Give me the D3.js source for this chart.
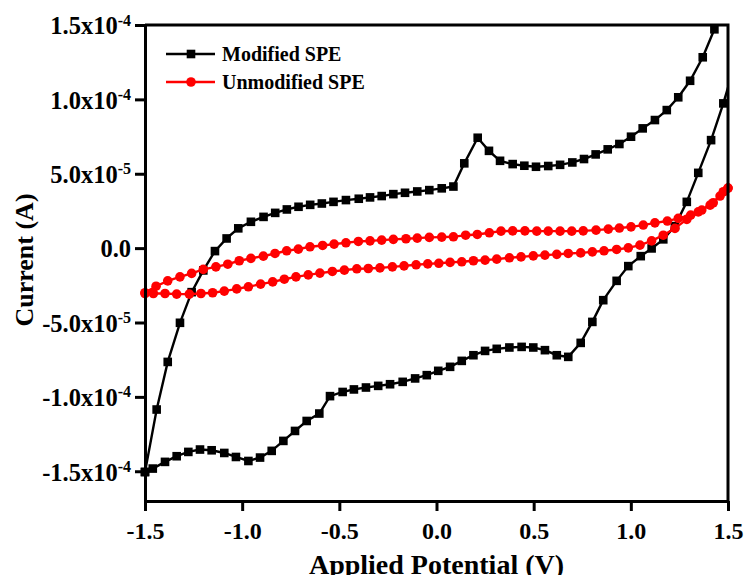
<!DOCTYPE html>
<html>
<head>
<meta charset="utf-8">
<script src="https://cdn.jsdelivr.net/npm/d3@7"></script>
<style>
  body { margin: 0; background: #fff; }
  text { font-family: "Liberation Serif", "Times New Roman", serif; font-weight: bold; fill: #000; }
</style>
</head>
<body>
<svg id="main" width="747" height="575"></svg>
<script>
// currents are in units of 1e-5 A
var xTicks = [-1.5, -1.0, -0.5, 0.0, 0.5, 1.0, 1.5];
var yTicks = [-15, -10, -5, 0, 5, 10, 15];
var yTickMant = ["-1.5", "-1.0", "-5.0", "0.0", "5.0", "1.0", "1.5"];
var yTickExp = ["-4", "-4", "-5", "", "-5", "-4", "-4"];

var seriesNames = ["Modified SPE", "Unmodified SPE"];

// Modified SPE, anodic sweep then cathodic sweep
var modFwdV = [-1.5,-1.44,-1.383,-1.32,-1.26,-1.2,-1.14,-1.08,-1.02,-0.955,-0.89,-0.83,-0.77,-0.71,-0.65,-0.59,-0.53,-0.466,-0.40,-0.342,-0.282,-0.222,-0.162,-0.099,-0.037,0.027,0.087,0.143,0.212,0.27,0.327,0.392,0.452,0.512,0.575,0.636,0.699,0.759,0.819,0.881,0.941,1.001,1.061,1.124,1.185,1.244,1.305,1.37,1.43,1.49];
var modFwdI = [-15.05,-10.85,-7.65,-5.02,-2.96,-1.5,-0.2,0.65,1.33,1.77,2.1,2.37,2.6,2.78,2.91,3.0,3.11,3.23,3.32,3.41,3.5,3.63,3.72,3.81,3.9,4.02,4.14,5.7,7.42,6.54,5.87,5.65,5.54,5.47,5.52,5.6,5.76,5.99,6.3,6.64,7.0,7.49,8.05,8.61,9.28,10.14,11.25,12.83,14.71,16.9];
var modRevV = [1.536,1.476,1.413,1.347,1.288,1.227,1.167,1.107,1.051,0.987,0.927,0.858,0.802,0.742,0.678,0.619,0.558,0.498,0.438,0.375,0.31,0.25,0.19,0.13,0.07,0.009,-0.05,-0.11,-0.174,-0.239,-0.30,-0.363,-0.425,-0.483,-0.548,-0.603,-0.668,-0.728,-0.788,-0.848,-0.908,-0.968,-1.032,-1.092,-1.157,-1.217,-1.277,-1.337,-1.397,-1.46,-1.5];
var modRevI = [12.4,9.73,7.26,5.06,3.11,1.48,0.59,-0.02,-0.54,-1.21,-2.2,-3.5,-4.96,-6.37,-7.31,-7.2,-6.86,-6.68,-6.64,-6.68,-6.77,-6.91,-7.2,-7.58,-7.98,-8.25,-8.54,-8.76,-8.99,-9.15,-9.26,-9.37,-9.5,-9.67,-9.95,-11.12,-11.62,-12.29,-12.96,-13.63,-14.08,-14.31,-14.04,-13.77,-13.59,-13.54,-13.7,-13.99,-14.37,-14.82,-15.05];

// Unmodified SPE
var unmodUpV = [-1.5,-1.443,-1.383,-1.32,-1.26,-1.2,-1.135,-1.074,-1.015,-0.955,-0.891,-0.831,-0.771,-0.711,-0.651,-0.586,-0.527,-0.466,-0.402,-0.342,-0.282,-0.222,-0.157,-0.099,-0.037,0.027,0.087,0.15,0.21,0.272,0.332,0.392,0.455,0.516,0.575,0.636,0.696,0.755,0.821,0.884,0.941,1.001,1.064,1.124,1.188,1.244,1.308,1.365,1.424,1.476,1.5];
var unmodUpI = [-3.0,-2.56,-2.2,-1.93,-1.7,-1.43,-1.26,-1.08,-0.85,-0.69,-0.54,-0.36,-0.18,-0.07,0.09,0.18,0.27,0.36,0.45,0.49,0.54,0.59,0.63,0.67,0.72,0.74,0.76,0.87,0.92,1.03,1.14,1.16,1.16,1.14,1.14,1.14,1.14,1.16,1.21,1.28,1.35,1.43,1.55,1.7,1.82,2.0,2.22,2.56,3.05,3.79,4.04];
var unmodLoV = [-1.5,-1.457,-1.397,-1.337,-1.272,-1.212,-1.152,-1.092,-1.028,-0.968,-0.905,-0.843,-0.783,-0.723,-0.66,-0.6,-0.536,-0.474,-0.41,-0.351,-0.291,-0.227,-0.167,-0.105,-0.045,0.012,0.07,0.13,0.19,0.25,0.31,0.375,0.435,0.498,0.558,0.619,0.678,0.742,0.802,0.862,0.927,0.987,1.047,1.107,1.167,1.227,1.288,1.347,1.408,1.459,1.5];
var unmodLoI = [-3.05,-3.05,-3.05,-3.09,-3.09,-3.05,-3.0,-2.89,-2.74,-2.6,-2.42,-2.27,-2.09,-1.93,-1.8,-1.68,-1.57,-1.48,-1.39,-1.37,-1.33,-1.26,-1.19,-1.12,-1.06,-1.02,-0.96,-0.92,-0.85,-0.81,-0.74,-0.65,-0.59,-0.52,-0.47,-0.42,-0.36,-0.32,-0.25,-0.18,-0.09,0.02,0.2,0.49,0.87,1.33,1.93,2.44,2.89,3.5,4.04];

var zip = (vs, is) => vs.map((v, i) => ({v: v, i: is[i]}));

var svg = d3.select('svg#main');
var plotLeft = 145, plotRight = 728, plotTop = 25, plotBottom = 501;

var x = d3.scaleLinear().domain([-1.5, 1.5]).range([plotLeft, plotRight]);
var y = d3.scaleLinear().domain([-17, 15]).range([plotBottom, plotTop]);

svg.append('clipPath').attr('id', 'plotclip')
  .append('rect').attr('x', plotLeft).attr('y', plotTop)
  .attr('width', plotRight - plotLeft).attr('height', plotBottom - plotTop);

var line = d3.line().x(d => x(d.v)).y(d => y(d.i));
var inside = d => d.v >= -1.5 && d.v <= 1.5 && d.i >= -17 && d.i <= 15;

var series = [
  {name: seriesNames[0], color: '#000', shape: 'square', branches: [zip(modFwdV, modFwdI), zip(modRevV, modRevI)]},
  {name: seriesNames[1], color: '#ff0000', shape: 'circle', branches: [zip(unmodUpV, unmodUpI), zip(unmodLoV, unmodLoI)]}
];

function drawMarkers(g, pts, s) {
  if (s.shape === 'square') {
    g.selectAll(null).data(pts).join('rect')
      .attr('x', d => x(d.v) - 4.3).attr('y', d => y(d.i) - 4.3)
      .attr('width', 8.6).attr('height', 8.6)
      .attr('fill', s.color);
  } else {
    g.selectAll(null).data(pts).join('circle')
      .attr('cx', d => x(d.v)).attr('cy', d => y(d.i))
      .attr('r', 4.8)
      .attr('fill', s.color);
  }
}

series.forEach(s => {
  var g = svg.append('g');
  s.branches.forEach(b => {
    g.append('path').datum(b)
      .attr('d', line)
      .attr('fill', 'none')
      .attr('stroke', s.color)
      .attr('stroke-width', 2.4)
      .attr('clip-path', 'url(#plotclip)');
  });
  s.branches.forEach(b => drawMarkers(g, b.filter(inside), s));
});

// axes
var xAxis = svg.append('g').attr('transform', `translate(0,${plotBottom})`)
  .call(d3.axisBottom(x).tickValues(xTicks).tickSize(10).tickSizeOuter(0));
xAxis.selectAll('text').attr('font-size', 24).attr('dy', null).attr('y', 38)
  .attr('font-family', '"Liberation Serif", serif').attr('font-weight', 'bold')
  .text(d => d3.format('.1f')(d).replace('−', '-'));

var yAxis = svg.append('g').attr('transform', `translate(${plotLeft},0)`)
  .call(d3.axisLeft(y).tickValues(yTicks).tickSize(10).tickSizeOuter(0));
yAxis.selectAll('text').each(function(d) {
  var t = d3.select(this).text('')
    .attr('font-size', 24.5).attr('x', -14).attr('dy', '0.36em')
    .attr('font-family', '"Liberation Serif", serif').attr('font-weight', 'bold');
  var idx = yTicks.indexOf(d);
  if (yTickExp[idx] === '') {
    t.text(yTickMant[idx]);
  } else {
    t.append('tspan').text(yTickMant[idx] + 'x10');
    t.append('tspan').attr('font-size', 16).attr('dy', '-0.55em').text(yTickExp[idx]);
  }
});

[xAxis, yAxis].forEach(a => {
  a.select('.domain').attr('stroke-width', 3);
  a.selectAll('.tick line').attr('stroke-width', 3);
});

// top and right frame
svg.append('path')
  .attr('d', `M${plotLeft},${plotTop} H${plotRight} V${plotBottom}`)
  .attr('fill', 'none').attr('stroke', '#000').attr('stroke-width', 3);

// axis titles
svg.append('text')
  .attr('x', (plotLeft + plotRight) / 2).attr('y', 574)
  .attr('text-anchor', 'middle').attr('font-size', 28)
  .text('Applied Potential (V)');

svg.append('text')
  .attr('transform', 'translate(33,260) rotate(-90)')
  .attr('text-anchor', 'middle').attr('font-size', 26)
  .text('Current (A)');

// legend
var legend = svg.append('g');
series.forEach((s, k) => {
  var ly = 54 + k * 28;
  legend.append('line').attr('x1', 166).attr('x2', 215).attr('y1', ly).attr('y2', ly)
    .attr('stroke', s.color).attr('stroke-width', 2.4);
  drawMarkers(legend, [{v: x.invert(191), i: y.invert(ly)}], s);
  legend.append('text').attr('x', 222).attr('y', ly).attr('dy', '0.35em')
    .attr('font-size', 20).text(s.name);
});
</script>
</body>
</html>
